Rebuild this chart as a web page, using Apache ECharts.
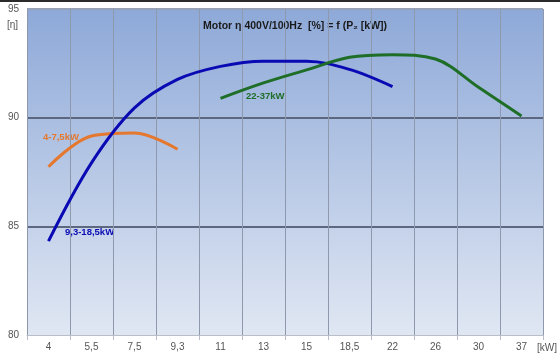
<!DOCTYPE html>
<html><head><meta charset="utf-8">
<script src="https://cdn.jsdelivr.net/npm/echarts@6/dist/echarts.min.js"></script>
<style>html,body{margin:0;padding:0;background:#fff}#c{width:560px;height:361px}</style>
</head><body><div id="c"></div>
<script>
const categories = ['4','5,5','7,5','9,3','11','13','15','18,5','22','26','30','37'];
const seriesNames = ['4-7,5kW','9,3-18,5kW','22-37kW'];
const orangeValues = [87.74, 89.16, 89.3, 88.55, null, null, null, null, null, null, null, null];
const blueValues = [84.32, 87.92, 90.45, 91.76, 92.36, 92.6, 92.6, 92.22, 91.43, null, null, null];
const greenValues = [null, null, null, null, 90.89, 91.6, 92.2, 92.78, 92.9, 92.7, 91.4, 90.08];
const yTicks = [80, 85, 90, 95];
const font = '"Liberation Sans", Arial, sans-serif';

const chart = echarts.init(document.getElementById('c'), null, {renderer:'canvas'});
chart.setOption({
  animation:false,
  backgroundColor:'#fff',
  grid:{left:27,right:17,top:9,bottom:26,show:true,borderWidth:0,
    backgroundColor:new echarts.graphic.LinearGradient(0,0,0,1,[{offset:0,color:'#8ea9d8'},{offset:1,color:'#e0e7f3'}])},
  xAxis:{type:'category',data:categories,boundaryGap:true,
    axisLine:{lineStyle:{color:'#b8bec8',width:1}},
    axisTick:{show:true,length:5,lineStyle:{color:'#b8bec8'}},
    axisLabel:{color:'#555',fontSize:10,fontFamily:font,margin:7},
    splitLine:{show:true,lineStyle:{color:'#8e99ad',width:1}}},
  yAxis:{type:'value',min:yTicks[0],max:yTicks[yTicks.length-1],interval:5,
    axisLine:{show:false},axisTick:{show:false},
    axisLabel:{color:'#555',fontSize:10,fontFamily:font,margin:8},
    splitLine:{show:true,lineStyle:{color:['transparent','#5b6880','#5b6880','#97a3b8'],width:2}}},
  series:[
    {name:seriesNames[0],type:'line',data:orangeValues,smooth:0.35,showSymbol:false,
      lineStyle:{color:'#e5782f',width:3},itemStyle:{color:'#e5782f'}},
    {name:seriesNames[1],type:'line',data:blueValues,smooth:0.35,showSymbol:false,
      lineStyle:{color:'#0a0ab4',width:3},itemStyle:{color:'#0a0ab4'}},
    {name:seriesNames[2],type:'line',data:greenValues,smooth:0.35,showSymbol:false,
      lineStyle:{color:'#1e6e28',width:3},itemStyle:{color:'#1e6e28'}}
  ],
  graphic:[
    {type:'rect',left:0,top:0,shape:{width:560,height:2},style:{fill:'#2b2b2b'}},
    {type:'text',left:7,top:20,style:{text:'[η]',fill:'#555',font:'10px '+font}},
    {type:'text',left:537,top:343,style:{text:'[kW]',fill:'#555',font:'10px '+font}},
    {type:'text',left:203,top:21,style:{text:'Motor η 400V/100Hz  [%] = f (P₂ [kW])',fill:'#1a1a1a',font:'bold 10.5px '+font}},
    {type:'text',left:43,top:132,style:{text:seriesNames[0],fill:'#e5782f',font:'bold 9.5px '+font}},
    {type:'text',left:65,top:227,style:{text:seriesNames[1],fill:'#0a0ab4',font:'bold 9.5px '+font}},
    {type:'text',left:246,top:91,style:{text:seriesNames[2],fill:'#1e6e28',font:'bold 9.5px '+font}}
  ]
});
</script></body></html>
